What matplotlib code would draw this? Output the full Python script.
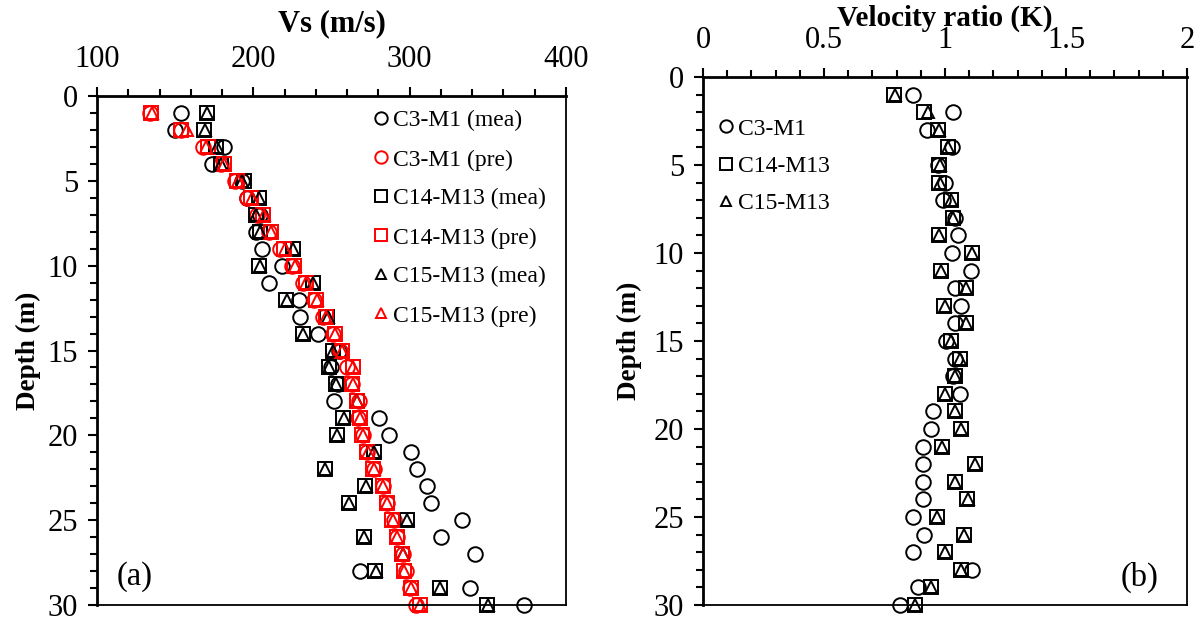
import matplotlib
matplotlib.use("Agg")
import matplotlib.pyplot as plt
from matplotlib.ticker import MultipleLocator, FuncFormatter

plt.rcParams["font.family"] = ["Liberation Serif", "DejaVu Serif"]

# depth of each measurement (m)
depth = list(range(1, 31))

# (a) shear-wave velocity, measured and predicted (m/s)
c3_mea = [154, 149.7, 181.3, 173.8, 193, 196, 204, 201.7, 205.6, 218.5,
          209.9, 229.2, 229.7, 241.1, 254.5, 249.6, 254.3, 251.8, 280.2, 286.7,
          300.6, 304.5, 311.4, 313.5, 333.3, 320, 341.5, 268.4, 338.7, 373.4]
c3_pre = [134, 153.5, 168, 179, 188, 196, 202.5, 210, 217, 224.6,
          232, 238.6, 244.6, 251, 255.5, 259.8, 263, 267.4, 267, 270,
          273, 277, 282.7, 285.3, 289.8, 292.2, 295.7, 297.9, 300.4, 304]
c14_mea = [170.3, 168.4, 176, 179, 194, 203.4, 201.7, 204.3, 225.4, 203.9,
           237.9, 221, 246.9, 231.8, 250.8, 248.4, 252.9, 266.2, 257.6, 253.3,
           277, 245.8, 271.6, 261.3, 298.5, 270.5, 295.3, 278, 319.1, 349.7]
c14_pre = [134.6, 154, 171, 181, 189.5, 198.7, 206.3, 211, 219.8, 226.3,
           233.6, 240.2, 246.2, 252, 256.6, 263.8, 263.3, 266.2, 268.2, 269.8,
           273, 276.5, 282.7, 285.3, 289, 291.9, 295.3, 296.1, 300.6, 306.3]
c15_mea = [170.5, 169, 177, 179.5, 193, 203.5, 202, 204.5, 225.5, 204,
           238, 221.5, 247.5, 232, 251, 248.5, 253, 266.5, 258, 253.5,
           277.5, 246, 272, 261.5, 298.5, 270.5, 295.5, 278.5, 319.5, 350]
c15_pre = [135, 157.5, 170, 181, 190, 199, 207, 211.5, 220, 226.5,
           234, 240.5, 246.5, 252.5, 257, 264, 263.5, 266.5, 268.5, 270,
           273.5, 277, 283, 285.5, 289.5, 292, 295.5, 296.5, 301, 306.5]

# (b) velocity ratio K
k_c3 = [0.869, 1.032, 0.924, 1.028, 0.972, 1.0, 0.993, 1.041, 1.052, 1.028,
        1.106, 1.041, 1.065, 1.041, 1.004, 1.041, 1.034, 1.062, 0.952, 0.942,
        0.908, 0.91, 0.908, 0.91, 0.869, 0.913, 0.866, 1.11, 0.887, 0.814]
k_c14 = [0.79, 0.915, 0.972, 1.011, 0.977, 0.977, 1.023, 1.034, 0.975, 1.11,
         0.982, 1.087, 0.997, 1.087, 1.023, 1.062, 1.041, 1.0, 1.041, 1.065,
         0.986, 1.125, 1.041, 1.092, 0.968, 1.079, 1.0, 1.065, 0.942, 0.876]
k_c15 = [0.792, 0.93, 0.975, 1.012, 0.98, 0.978, 1.025, 1.035, 0.977, 1.11,
         0.983, 1.088, 0.998, 1.088, 1.025, 1.063, 1.042, 1.0, 1.042, 1.066,
         0.987, 1.126, 1.042, 1.093, 0.969, 1.08, 1.0, 1.066, 0.943, 0.878]

W, H = 1200, 621
fig = plt.figure(figsize=(W / 100, H / 100), dpi=100)
ax1 = fig.add_axes([97 / W, 16 / H, 469 / W, 509 / H])
ax2 = fig.add_axes([703 / W, 16 / H, 484 / W, 528 / H])

mk = dict(ls="none", mfc="none", mew=1.4, clip_on=False)
series_a = [
    (c3_mea, "o", "black", 10.5, "C3-M1 (mea)"),
    (c3_pre, "o", "red", 10.5, "C3-M1 (pre)"),
    (c14_mea, "s", "black", 10.5, "C14-M13 (mea)"),
    (c14_pre, "s", "red", 10.5, "C14-M13 (pre)"),
    (c15_mea, "^", "black", 8.5, "C15-M13 (mea)"),
    (c15_pre, "^", "red", 8.5, "C15-M13 (pre)"),
]
for vals, m, col, ms, lab in series_a:
    ax1.plot(vals, depth, marker=m, mec=col, ms=ms, label=lab, **mk)

series_b = [
    (k_c3, "o", 10.5, "C3-M1"),
    (k_c14, "s", 10.5, "C14-M13"),
    (k_c15, "^", 8.5, "C15-M13"),
]
for vals, m, ms, lab in series_b:
    ax2.plot(vals, depth, marker=m, mec="black", ms=ms, label=lab, **mk)

for ax in (ax1, ax2):
    ax.set_ylim(30, 0)
    ax.xaxis.tick_top()
    ax.xaxis.set_label_position("top")
    ax.yaxis.set_major_locator(MultipleLocator(5))
    ax.yaxis.set_minor_locator(MultipleLocator(1))
    ax.tick_params(which="major", direction="out", length=6.5, width=1.5,
                   labelsize=22, colors="black")
    ax.tick_params(which="minor", direction="out", length=4.7, width=1.5)
    ax.tick_params(axis="x", which="both", pad=9)
    ax.tick_params(axis="y", which="both", pad=7)
    ax.spines["top"].set_linewidth(2)
    ax.spines["left"].set_linewidth(2)
    ax.spines["bottom"].set_linewidth(1.3)
    ax.spines["right"].set_linewidth(1.3)
    ax.set_ylabel("Depth (m)", fontsize=19.5, fontweight="bold")

ax1.yaxis.set_label_coords((41 - 97) / 469, 0.5)
ax2.yaxis.set_label_coords((642 - 703) / 484, 0.5)

ax1.set_xlim(100, 400)
ax1.xaxis.set_major_locator(MultipleLocator(100))
ax1.xaxis.set_minor_locator(MultipleLocator(20))
ax1.set_xlabel("Vs (m/s)", fontsize=22, fontweight="bold")
ax1.xaxis.set_label_coords(0.5, 1 + (96 - 24) / 509)
ax1.xaxis.label.set_va("center")

ax2.set_xlim(0, 2)
ax2.xaxis.set_major_locator(MultipleLocator(0.5))
ax2.xaxis.set_minor_locator(MultipleLocator(0.1))
ax2.xaxis.set_major_formatter(FuncFormatter(lambda v, p: f"{v:g}"))
ax2.set_xlabel("Velocity ratio (K)", fontsize=21, fontweight="bold")
ax2.xaxis.set_label_coords(0.5, 1 + (77 - 18) / 528)
ax2.xaxis.label.set_va("center")

leg_kw = dict(frameon=False, fontsize=17, handlelength=0.6, handletextpad=0.2,
              markerscale=0.85, borderpad=0, borderaxespad=0, loc="upper left")
ax1.legend(bbox_to_anchor=((374 - 97) / 469, 1 - (110 - 96) / 509),
           labelspacing=0.74, **leg_kw)
ax2.legend(bbox_to_anchor=((719 - 703) / 484, 1 - (118 - 77) / 528),
           labelspacing=0.67, **leg_kw)

ax1.text(0.081, 0.055, "(a)", transform=ax1.transAxes, fontsize=23.5,
         ha="center", va="center")
ax2.text(0.903, 0.053, "(b)", transform=ax2.transAxes, fontsize=23.5,
         ha="center", va="center")

fig.savefig("out.png", dpi=100)
